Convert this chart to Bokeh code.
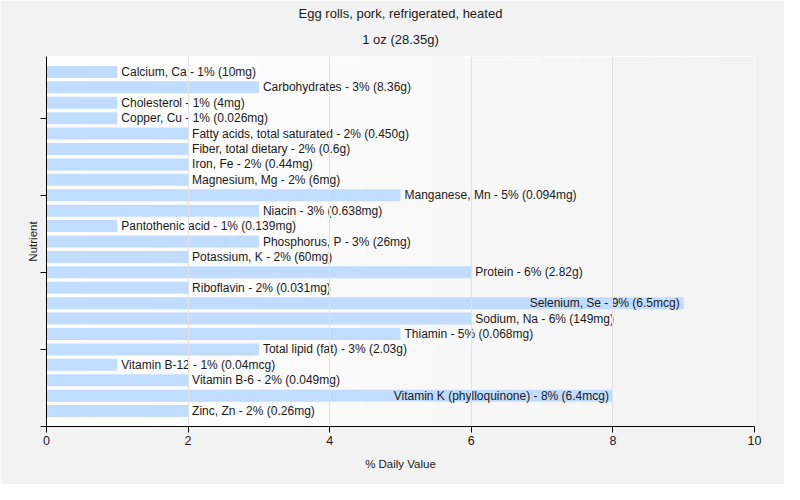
from bokeh.plotting import figure
from bokeh.models import ColumnDataSource, FixedTicker, Range1d, BoxAnnotation, Title
from bokeh.embed import file_html
from bokeh.resources import INLINE
from bokeh.core.properties import value

title_main = "Egg rolls, pork, refrigerated, heated"
title_sub = "1 oz (28.35g)"
nutrients = [
    "Calcium, Ca", "Carbohydrates", "Cholesterol", "Copper, Cu",
    "Fatty acids, total saturated", "Fiber, total dietary", "Iron, Fe",
    "Magnesium, Mg", "Manganese, Mn", "Niacin", "Pantothenic acid",
    "Phosphorus, P", "Potassium, K", "Protein", "Riboflavin", "Selenium, Se",
    "Sodium, Na", "Thiamin", "Total lipid (fat)", "Vitamin B-12",
    "Vitamin B-6", "Vitamin K (phylloquinone)", "Zinc, Zn",
]
pct_dv = [1, 3, 1, 1, 2, 2, 2, 2, 5, 3, 1, 3, 2, 6, 2, 9, 6, 5, 3, 1, 2, 8, 2]
amounts = [
    "10mg", "8.36g", "4mg", "0.026mg", "0.450g", "0.6g", "0.44mg", "6mg",
    "0.094mg", "0.638mg", "0.139mg", "26mg", "60mg", "2.82g", "0.031mg",
    "6.5mcg", "149mg", "0.068mg", "2.03g", "0.04mcg", "0.049mg", "6.4mcg",
    "0.26mg",
]
x_ticks = [0, 2, 4, 6, 8, 10]

n = len(nutrients)
ys = [n - i for i in range(n)]
labels = [f"{a} - {b}% ({c})" for a, b, c in zip(nutrients, pct_dv, amounts)]

src = ColumnDataSource(dict(y=ys, v=pct_dv, label=labels))
inside = [i for i, v in enumerate(pct_dv) if v >= 8]
outside = [i for i, v in enumerate(pct_dv) if v < 8]
src_out = ColumnDataSource(dict(y=[ys[i] for i in outside], v=[pct_dv[i] for i in outside],
                                label=[labels[i] for i in outside]))
src_in = ColumnDataSource(dict(y=[ys[i] for i in inside], v=[pct_dv[i] for i in inside],
                               label=[labels[i] for i in inside]))

FONT = "Liberation Sans"
TXT = "#1a1a1a"

W, H = 784, 484
BL, BR, BT, BB = 46, 30, 56, 58

p = figure(width=W, height=H, output_backend="svg", toolbar_location=None,
           x_range=Range1d(0, 10), y_range=Range1d(0, n + 1),
           min_border_left=BL, min_border_right=BR, min_border_top=BT,
           min_border_bottom=BB)

p.background_fill_color = "#ffffff"
p.border_fill_color = "#f2f2f2"
p.outline_line_color = None

# soft horizontal gradient of the plotting area
bands = 20
for k in range(bands):
    t = k / (bands - 1)
    c = int(round(255 - t * 12))
    p.add_layout(BoxAnnotation(left=10 * k / bands, right=10 * (k + 1) / bands,
                               fill_color=f"#{c:02x}{c:02x}{c:02x}", fill_alpha=1.0,
                               line_color=None, level="underlay"))

p.hbar(y="y", right="v", left=0, height=0.78, source=src,
       fill_color="#c0dcff", line_color=None)

p.text(x="v", y="y", text="label", source=src_out, x_offset=4,
       text_align="left", text_baseline="middle", text_font=value(FONT),
       text_font_size="12px", text_color=TXT)
p.text(x="v", y="y", text="label", source=src_in, x_offset=-4,
       text_align="right", text_baseline="middle", text_font=value(FONT),
       text_font_size="12px", text_color=TXT)

# title lines: main on top, subtitle nearer to the frame
p.title.text = title_main
p.title.align = "center"
p.title.offset = -8
p.title.text_font = FONT
p.title.text_font_size = "13px"
p.title.text_font_style = "normal"
p.title.text_color = TXT
p.title.vertical_align = "top"
p.title.standoff = 2

sub = Title(text=title_sub, align="center", offset=-8, text_font=FONT,
            text_font_size="13px", text_font_style="normal", text_color=TXT,
            vertical_align="top", standoff=16)
p.add_layout(sub, "above")

p.ygrid.visible = False
p.xgrid.grid_line_color = "#e2e2e2"
p.xgrid.level = "glyph"
p.xgrid.ticker = FixedTicker(ticks=x_ticks)

p.xaxis.ticker = FixedTicker(ticks=x_ticks)
p.xaxis.axis_label = "% Daily Value"
p.yaxis.ticker = FixedTicker(ticks=[0, 5, 10, 15, 20])
p.yaxis.major_label_overrides = {0: "", 5: "", 10: "", 15: "", 20: ""}
p.yaxis.axis_label = "Nutrient"

for ax in (p.xaxis[0], p.yaxis[0]):
    ax.axis_line_color = "#000000"
    ax.major_tick_line_color = "#000000"
    ax.major_tick_out = 6
    ax.major_tick_in = 0
    ax.minor_tick_line_color = None
    ax.major_label_text_font = FONT
    ax.major_label_text_font_size = "12.5px"
    ax.major_label_text_color = TXT
    ax.axis_label_text_font = FONT
    ax.axis_label_text_font_size = "11.5px"
    ax.axis_label_text_font_style = "normal"
    ax.axis_label_text_color = TXT

p.xaxis.major_label_standoff = 3
p.xaxis.axis_label_standoff = 10
p.yaxis.major_label_standoff = 0
p.yaxis.axis_label_standoff = 2

open("out.html", "w").write(file_html(p, INLINE))
